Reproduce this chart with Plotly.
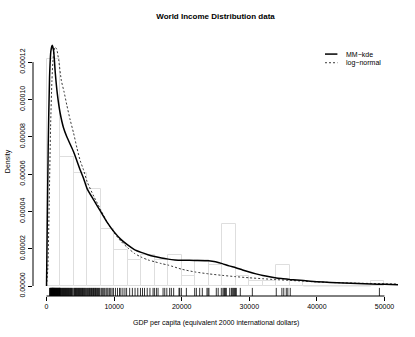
# World income distribution: histogram + MM-kde + log-normal fit, rug of countries
import plotly.graph_objects as go

# histogram (density), bins 2000 wide starting at 0
bin_width = 2000
bin_left = [0, 2000, 4000, 6000, 8000, 10000, 12000, 14000, 16000, 18000,
            20000, 22000, 24000, 26000, 28000, 30000, 32000, 34000, 36000,
            38000, 40000, 42000, 44000, 46000, 48000]
hist_density = [1.215e-4, 6.89e-5, 6.08e-5, 5.22e-5, 3.04e-5, 1.95e-5, 1.40e-5,
                1.68e-5, 1.38e-5, 1.68e-5, 5.6e-6, 1.38e-5, 1.11e-5, 3.31e-5,
                5.6e-6, 2.8e-6, 2.8e-6, 1.11e-5, 2.8e-6, 0, 0, 0, 0, 0, 2.8e-6]

# MM-kde curve
kde_x = [0, 100, 250, 450, 650, 850, 1050, 1300, 1600, 2000, 2500, 3000, 3500,
         4000, 4500, 5000, 5500, 6000, 7000, 8000, 9000, 10000, 11000, 12000,
         13000, 14000, 15000, 16000, 17000, 18000, 19000, 20000, 22000, 24000,
         25000, 26000, 27000, 28000, 29000, 30000, 31000, 32000, 33000, 34000,
         35000, 36000, 37000, 38000, 40000, 42000, 44000, 46000, 48000, 50000, 52000]
kde_y = [0, 3.0e-5, 7.5e-5, 1.12e-4, 1.26e-4, 1.29e-4, 1.26e-4, 1.14e-4, 1.03e-4,
         9.3e-5, 8.5e-5, 8.0e-5, 7.6e-5, 7.2e-5, 6.7e-5, 6.2e-5, 5.75e-5, 5.22e-5,
         4.6e-5, 4.0e-5, 3.4e-5, 2.9e-5, 2.5e-5, 2.2e-5, 1.95e-5, 1.8e-5, 1.68e-5,
         1.58e-5, 1.5e-5, 1.44e-5, 1.4e-5, 1.38e-5, 1.37e-5, 1.35e-5, 1.3e-5,
         1.2e-5, 1.08e-5, 9.8e-6, 8.6e-6, 7.5e-6, 6.5e-6, 5.6e-6, 4.9e-6, 4.3e-6,
         3.9e-6, 3.5e-6, 3.2e-6, 2.9e-6, 2.3e-6, 1.9e-6, 1.6e-6, 1.3e-6, 1.1e-6,
         0.9e-6, 0.7e-6]

# log-normal fit
ln_x = [0, 200, 400, 600, 800, 1000, 1250, 1500, 1800, 2200, 2600, 3000, 3500,
        4000, 4500, 5000, 5500, 6000, 7000, 8000, 9000, 10000, 11000, 12000,
        13000, 14000, 15000, 16000, 17000, 18000, 20000, 22000, 24000, 26000,
        28000, 30000, 32000, 34000, 36000, 38000, 40000, 42000, 44000, 46000,
        48000, 50000, 52000]
ln_y = [0, 1.0e-5, 4.5e-5, 8.5e-5, 1.10e-4, 1.23e-4, 1.28e-4, 1.27e-4, 1.21e-4,
        1.10e-4, 1.04e-4, 9.7e-5, 8.9e-5, 8.2e-5, 7.4e-5, 6.7e-5, 6.2e-5, 5.6e-5,
        4.8e-5, 4.1e-5, 3.4e-5, 2.85e-5, 2.4e-5, 2.05e-5, 1.75e-5, 1.55e-5,
        1.4e-5, 1.3e-5, 1.2e-5, 1.12e-5, 9.0e-6, 7.5e-6, 6.5e-6, 5.7e-6, 5.0e-6,
        4.4e-6, 3.9e-6, 3.4e-6, 3.0e-6, 2.6e-6, 2.2e-6, 1.9e-6, 1.7e-6, 1.5e-6,
        1.35e-6, 1.2e-6, 1.1e-6]

# country GDP per capita (rug)
gdp = [450, 520, 580, 610, 640, 690, 720, 760, 790, 820, 850, 880, 900, 930, 960,
       990, 1020, 1050, 1080, 1110, 1150, 1180, 1210, 1250, 1290, 1320, 1360,
       1400, 1440, 1480, 1520, 1560, 1600, 1640, 1680, 1720, 1760, 1800, 1840,
       1880, 1910, 1940, 1970, 1990,
       2050, 2120, 2200, 2280, 2350, 2420, 2500, 2570, 2640, 2710, 2790, 2860,
       2930, 3000, 3080, 3150, 3230, 3300, 3380, 3460, 3540, 3620, 3700, 3800, 3900,
       4050, 4130, 4220, 4300, 4380, 4460, 4550, 4630, 4720, 4800, 4890, 4980,
       5060, 5150, 5240, 5330, 5420, 5510, 5600, 5700, 5800, 5900,
       6050, 6150, 6250, 6350, 6450, 6550, 6650, 6750, 6850, 6950, 7050, 7150,
       7250, 7350, 7450, 7550, 7700, 7800, 7900,
       8100, 8250, 8400, 8600, 8800, 8950, 9100, 9300, 9500, 9700, 9900,
       10200, 10500, 10800, 11000, 11300, 11600, 11850,
       12300, 12700, 13100, 13500, 13900,
       14200, 14500, 14900, 15300, 15760, 15960,
       16260, 16500, 17240, 17490, 17800,
       18220, 18470, 18810, 19600, 19700, 19950,
       20690, 21920,
       22170, 22660, 23050, 23740, 23900,
       24030, 25120, 25400, 25860,
       26100, 26250, 26350, 26500, 26600, 27100, 27340, 27450, 27580, 27700,
       27830, 27950,
       28080, 28670, 30450, 33990, 34820, 35100, 35470, 35700, 36060, 49250]

x_ticks = [0, 10000, 20000, 30000, 40000, 50000]
x_tick_labels = ["0", "10000", "20000", "30000", "40000", "50000"]
y_ticks = [0, 0.00002, 0.00004, 0.00006, 0.00008, 0.00010, 0.00012]
y_tick_labels = ["0.00000", "0.00002", "0.00004", "0.00006", "0.00008",
                 "0.00010", "0.00012"]

# axis ranges with R's 4% padding
xr = [-2000, 52000]
ylim = (0, 0.000134)
yr = [ylim[0] - 0.04 * (ylim[1] - ylim[0]), ylim[1] + 0.04 * (ylim[1] - ylim[0])]

FONT = "Liberation Sans, Arial, Helvetica, sans-serif"
BAR_GREY = "#dedede"

fig = go.Figure()

# histogram bars
fig.add_trace(go.Bar(
    x=[b + bin_width / 2 for b in bin_left], y=hist_density, width=bin_width,
    marker=dict(color="rgba(255,255,255,0)", line=dict(color=BAR_GREY, width=1)),
    showlegend=False, hoverinfo="skip"))

# empty bins still show as flat lines in R
zx, zy = [], []
for b, d in zip(bin_left, hist_density):
    if d == 0:
        zx += [b, b + bin_width, None]
        zy += [0, 0, None]
fig.add_trace(go.Scatter(x=zx, y=zy, mode="lines",
                         line=dict(color=BAR_GREY, width=1),
                         showlegend=False, hoverinfo="skip"))

fig.add_trace(go.Scatter(x=ln_x, y=ln_y, mode="lines", name="log\u2212normal",
                         line=dict(color="#222222", width=0.9, dash="2px,2px",
                                   shape="spline", smoothing=0.6),
                         showlegend=False))
fig.add_trace(go.Scatter(x=kde_x, y=kde_y, mode="lines", name="MM\u2212kde",
                         line=dict(color="black", width=1.5,
                                   shape="spline", smoothing=0.6),
                         showlegend=False))

# rug along the bottom of the plot region
rug_top = yr[0] + 0.03 * (yr[1] - yr[0])
rx, ry = [], []
for v in gdp:
    rx += [v, v, None]
    ry += [yr[0], rug_top, None]
fig.add_trace(go.Scatter(x=rx, y=ry, mode="lines",
                         line=dict(color="black", width=0.8),
                         showlegend=False, hoverinfo="skip"))

# axis lines only across the tick span (base R look)
fig.add_shape(type="line", xref="x", yref="paper", x0=x_ticks[0], x1=x_ticks[-1],
              y0=0, y1=0, line=dict(color="black", width=1))
fig.add_shape(type="line", xref="paper", yref="y", x0=0, x1=0,
              y0=y_ticks[0], y1=y_ticks[-1], line=dict(color="black", width=1))

# legend drawn like R's legend(bty="n")
fig.add_shape(type="line", xref="paper", yref="paper", x0=0.800, x1=0.834,
              y0=0.896, y1=0.896, line=dict(color="black", width=1.5))
fig.add_shape(type="line", xref="paper", yref="paper", x0=0.800, x1=0.834,
              y0=0.864, y1=0.864, line=dict(color="#222222", width=0.9, dash="2px,2px"))
fig.add_annotation(text="MM\u2212kde", xref="paper", yref="paper", x=0.853, y=0.896,
                   xanchor="left", yanchor="middle", showarrow=False,
                   font=dict(size=7, color="black", family=FONT))
fig.add_annotation(text="log\u2212normal", xref="paper", yref="paper", x=0.853, y=0.864,
                   xanchor="left", yanchor="middle", showarrow=False,
                   font=dict(size=7, color="black", family=FONT))

# axis titles
fig.add_annotation(text="GDP per capita (equivalent 2000 international dollars)",
                   xref="paper", yref="paper", x=0.5, y=-0.101,
                   xanchor="center", yanchor="middle", showarrow=False,
                   font=dict(size=7, color="black", family=FONT))
fig.add_annotation(text="Density", xref="paper", yref="paper", x=-0.068, y=0.5,
                   xanchor="center", yanchor="middle", textangle=-90, showarrow=False,
                   font=dict(size=7, color="black", family=FONT))

fig.update_layout(
    width=415, height=337,
    margin=dict(l=33, r=17, t=26, b=41, autoexpand=False),
    paper_bgcolor="white", plot_bgcolor="white",
    title=dict(text="World Income Distribution data", x=0.5, xref="paper",
               y=1 - 16 / 337, yref="container", xanchor="center", yanchor="middle",
               font=dict(size=8, color="black", family=FONT, weight="bold")),
    xaxis=dict(range=xr, tickvals=x_ticks, ticktext=x_tick_labels,
               ticks="outside", ticklen=4, tickcolor="black", tickwidth=1,
               showline=False, showgrid=False, zeroline=False, automargin=False,
               tickfont=dict(size=7, color="black", family=FONT)),
    yaxis=dict(range=yr, tickvals=y_ticks, ticktext=y_tick_labels,
               ticks="outside", ticklen=4, tickcolor="black", tickwidth=1,
               tickangle=-90, automargin=False,
               showline=False, showgrid=False, zeroline=False,
               tickfont=dict(size=7, color="black", family=FONT)),
    bargap=0, showlegend=False,
)

# drop the browser's default 8px body margin so the figure sits at the page origin
fig.write_html("out.html", config={"displayModeBar": False},
               post_script="document.body.style.margin='0';")
